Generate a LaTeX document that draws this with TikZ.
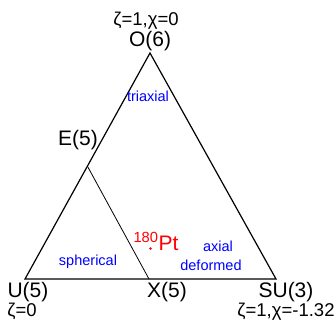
\documentclass[tikz,border=0pt]{standalone}
\usepackage{fontspec}
\setmainfont{Liberation Sans}
\usepackage{xcolor}

\begin{document}
\begin{tikzpicture}[x=1pt,y=-1pt,every node/.style={inner sep=0pt,anchor=base}]
\useasboundingbox (0,0) rectangle (334,322);
\coordinate (O) at (150,53);
\coordinate (U) at (25,279);
\coordinate (SU) at (276,279);
\coordinate (E) at (87.7,166.7);
\coordinate (X) at (149,279);
\draw[line width=1.2pt] (O) -- (U) -- (SU) -- cycle;
\draw[line width=0.8pt] (E) -- (X);
\node (zo) at (146,25) {\fontsize{18.5}{20}\selectfont ζ=1,χ=0};
\node (o6) at (150,46.5) {\fontsize{21}{24}\selectfont O(6)};
\node[blue] (tri) at (148,101) {\fontsize{14.5}{16}\selectfont triaxial};
\node (e5) at (78,145) {\fontsize{21}{24}\selectfont E(5)};
\node[blue] (sph) at (88,265) {\fontsize{14.5}{16}\selectfont spherical};
\node[red] (pt) at (156,250) {\fontsize{21}{24}\selectfont \textsuperscript{180}Pt};
\fill[red] (150.5,248.5) circle (1.3pt);
\node[blue] (ax) at (218,251.5) {\fontsize{14.5}{16}\selectfont axial};
\node[blue] (def) at (211,270) {\fontsize{14.5}{16}\selectfont deformed};
\node (u5) at (28,297.5) {\fontsize{21}{24}\selectfont U(5)};
\node (zu) at (22,316.5) {\fontsize{18.5}{20}\selectfont ζ=0};
\node (x5) at (167,297.5) {\fontsize{21}{24}\selectfont X(5)};
\node (su3) at (286,297.5) {\fontsize{21}{24}\selectfont SU(3)};
\node (zsu) at (286,316.5) {\fontsize{18.5}{20}\selectfont ζ=1,χ=-1.32};
\end{tikzpicture}
\end{document}
